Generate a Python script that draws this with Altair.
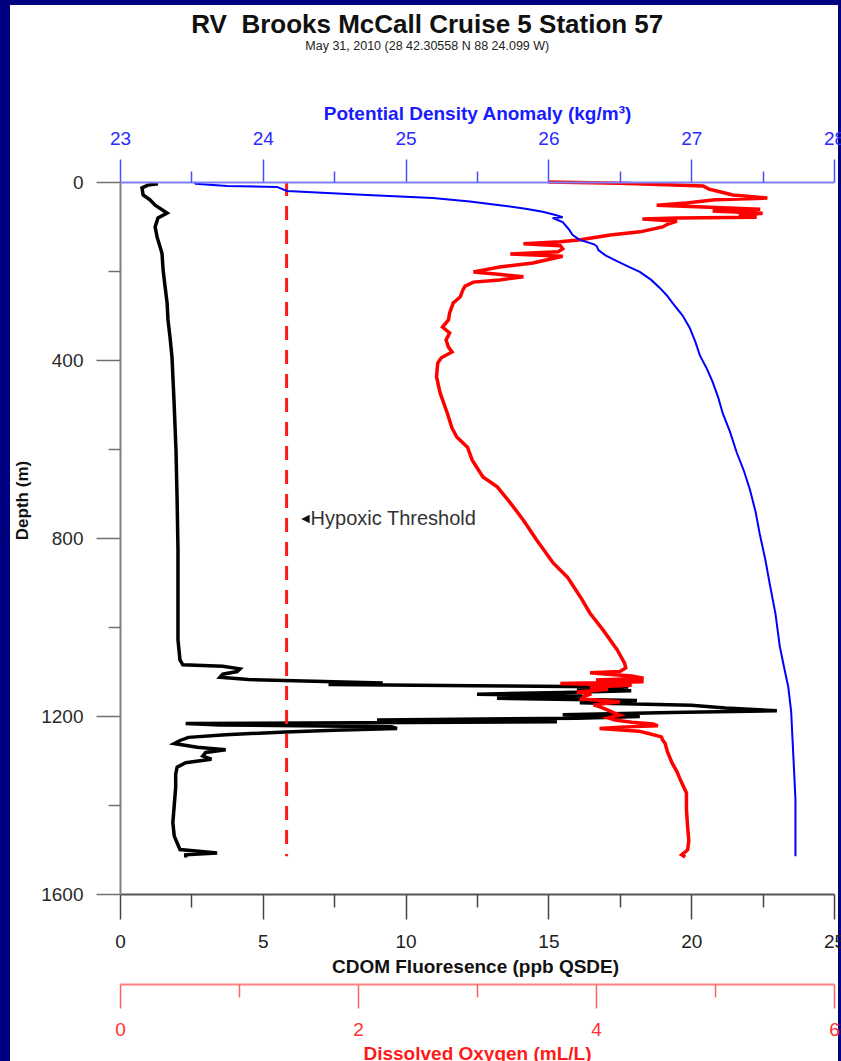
import altair as alt
import pandas as pd

# ---- CTD cast: RV Brooks McCall, cruise 5, station 57 ----
# CDOM fluorescence (ppb QSDE) against depth (m)
CDOM_DEPTH = [4, 7, 13, 29, 40, 52, 70, 81, 101, 124, 160, 198, 236, 272, 310, 348, 393,
              490, 602, 715, 827, 939, 1029, 1074, 1085, 1088, 1094, 1100, 1106, 1113,
              1118, 1122, 1126, 1129, 1132, 1135, 1139, 1143, 1147, 1151, 1155, 1160,
              1165, 1170, 1176, 1182, 1188, 1192, 1197, 1201, 1205, 1209, 1213, 1217,
              1220, 1224, 1228, 1232, 1236, 1242, 1248, 1255, 1262, 1270, 1276, 1282,
              1290, 1297, 1305, 1315, 1330, 1360, 1400, 1440, 1470, 1500, 1508, 1512, 1518]
CDOM_VALUE = [1.33, 0.98, 0.77, 0.81, 1.05, 1.23, 1.65, 1.33, 1.23, 1.30, 1.47, 1.51, 1.58,
              1.65, 1.68, 1.75, 1.82, 1.89, 1.96, 2.00, 2.03, 2.03, 2.03, 2.10, 2.20, 3.60,
              4.20, 4.10, 3.60, 3.50, 4.50, 6.80, 9.20, 7.30, 12.4, 17.8, 16.0, 17.9, 15.5,
              12.5, 16.2, 13.2, 18.1, 16.1, 20.0, 21.2, 23.0, 19.3, 15.5, 18.2, 16.0, 9.0,
              15.3, 2.30, 3.50, 9.50, 9.70, 7.50, 5.80, 3.70, 2.40, 2.10, 1.90, 2.70, 3.70,
              3.00, 2.90, 3.20, 2.30, 2.00, 1.95, 1.95, 1.90, 1.85, 1.90, 2.10, 3.40, 2.30, 2.30]

# Dissolved oxygen (mL/L) against depth (m)
DO_DEPTH = [0, 3, 6, 9, 16, 22, 29, 36, 40, 47, 52, 56, 61, 65, 70, 76, 79, 81, 83, 88, 95,
            101, 112, 119, 130, 134, 139, 143, 150, 157, 162, 167, 174, 182, 191, 202, 208,
            213, 220, 225, 234, 243, 258, 272, 294, 310, 326, 339, 355, 371, 382, 395, 407,
            438, 474, 519, 553, 573, 596, 625, 663, 685, 721, 760, 804, 856, 888, 933, 969,
            1007, 1052, 1081, 1092, 1100, 1103, 1106, 1110, 1115, 1119, 1123, 1127, 1131,
            1135, 1140, 1146, 1150, 1156, 1162, 1168, 1175, 1181, 1187, 1193, 1198, 1204,
            1209, 1214, 1218, 1222, 1225, 1228, 1234, 1240, 1247, 1254, 1261, 1280, 1306,
            1325, 1344, 1373, 1410, 1449, 1480, 1501, 1512, 1517]
DO_VALUE = [3.60, 4.20, 4.60, 4.90, 4.95, 5.04, 5.15, 5.44, 5.00, 4.76, 4.51, 4.90, 5.38,
            4.98, 5.40, 5.20, 5.35, 4.68, 4.39, 4.68, 4.60, 4.56, 4.37, 4.12, 3.87, 3.70,
            3.39, 3.70, 3.72, 3.68, 3.28, 3.72, 3.60, 3.47, 3.19, 2.97, 3.20, 3.39, 3.19,
            2.97, 2.90, 2.88, 2.86, 2.80, 2.77, 2.76, 2.71, 2.77, 2.74, 2.76, 2.79, 2.70,
            2.67, 2.66, 2.69, 2.75, 2.79, 2.83, 2.92, 2.96, 3.05, 3.17, 3.28, 3.39, 3.50,
            3.64, 3.76, 3.87, 3.95, 4.06, 4.18, 4.24, 4.25, 4.20, 3.95, 4.10, 4.30, 4.40,
            4.00, 4.40, 3.70, 4.30, 3.95, 4.10, 3.84, 3.96, 3.90, 3.88, 4.20, 3.98, 4.05,
            4.10, 4.15, 4.20, 4.10, 4.16, 4.30, 4.48, 4.52, 4.20, 4.03, 4.36, 4.45, 4.55,
            4.56, 4.58, 4.60, 4.64, 4.68, 4.71, 4.76, 4.76, 4.77, 4.78, 4.77, 4.72, 4.75]

# Potential density anomaly (kg/m3) against depth (m)
SIGMA_DEPTH = [0, 4, 9, 11, 20, 29, 36, 44, 52, 60, 67, 74, 79, 81, 90, 105, 119, 130, 140,
               145, 153, 165, 178, 190, 202, 220, 238, 255, 272, 300, 328, 360, 389, 420,
               449, 485, 519, 560, 609, 650, 690, 740, 791, 850, 903, 970, 1043, 1090,
               1135, 1190, 1256, 1320, 1387, 1450, 1515]
SIGMA_VALUE = [23.52, 23.53, 23.75, 24.10, 24.17, 24.73, 25.19, 25.45, 25.66, 25.84, 25.96,
               26.05, 26.10, 26.03, 26.10, 26.14, 26.17, 26.22, 26.32, 26.34, 26.35, 26.40,
               26.48, 26.56, 26.64, 26.72, 26.78, 26.83, 26.87, 26.94, 26.99, 27.03, 27.06,
               27.11, 27.15, 27.19, 27.22, 27.27, 27.32, 27.37, 27.41, 27.45, 27.48, 27.52,
               27.55, 27.59, 27.62, 27.65, 27.68, 27.70, 27.71, 27.72, 27.73, 27.73, 27.73]

# Hypoxic threshold (mL/L) and its annotation
HYPOXIC_DO = [1.4]
HYPOXIC_TOP = [0]
HYPOXIC_BOTTOM = [1515]
HYPOXIC_LABEL = ["Hypoxic Threshold"]
HYPOXIC_LABEL_DEPTH = [757]

# Axis tick values
DEPTH_MAJOR = [0, 400, 800, 1200, 1600]
DEPTH_MINOR = [200, 600, 1000, 1400]
CDOM_MAJOR = [0, 5, 10, 15, 20, 25]
CDOM_MINOR = [2.5, 7.5, 12.5, 17.5, 22.5]
DO_MAJOR = [0, 2, 4, 6]
DO_MINOR = [1, 3, 5]
SIGMA_MAJOR = [23, 24, 25, 26, 27, 28]
SIGMA_MINOR = [23.5, 24.5, 25.5, 26.5, 27.5]

FONT = "Liberation Sans"
W, H = 714, 712

cdom = pd.DataFrame({"depth": CDOM_DEPTH, "cdom": CDOM_VALUE, "i": range(len(CDOM_DEPTH))})
oxy = pd.DataFrame({"depth": DO_DEPTH, "do": DO_VALUE, "i": range(len(DO_DEPTH))})
sigma = pd.DataFrame({"depth": SIGMA_DEPTH, "sigma": SIGMA_VALUE, "i": range(len(SIGMA_DEPTH))})
hyp = pd.DataFrame({"do": HYPOXIC_DO, "top": HYPOXIC_TOP, "bottom": HYPOXIC_BOTTOM,
                    "label": HYPOXIC_LABEL, "depth": HYPOXIC_LABEL_DEPTH})

depth_scale = alt.Scale(domain=[0, 1600], reverse=True, nice=False, zero=False)
cdom_scale = alt.Scale(domain=[0, 25], nice=False, zero=False)
do_scale = alt.Scale(domain=[0, 6], nice=False, zero=False)
sigma_scale = alt.Scale(domain=[23, 28], nice=False, zero=False)

common = dict(grid=False, labelFlush=False, labelOverlap=False, labelBound=False,
              labelFont=FONT, titleFont=FONT, zindex=1)
minor_common = dict(domain=False, labels=False, title=None, grid=False, zindex=1,
                    tickWidth=1.5)

depth_axis = alt.Axis(orient="left", values=DEPTH_MAJOR, tickSize=24, tickWidth=1.5,
                      tickColor="#707070", domainColor="#808080", domainWidth=2,
                      labelFontSize=19, labelColor="#2a2a2a", labelPadding=13, format="d",
                      title="Depth (m)", titleFontSize=17, titleFontWeight="bold",
                      titleColor="#111111", titleAngle=270, titleX=-98, titleY=318,
                      titleAlign="center", titleBaseline="middle", **common)
depth_minor = alt.Axis(orient="left", values=DEPTH_MINOR, tickSize=12,
                       tickColor="#707070", **minor_common)

cdom_axis = alt.Axis(orient="bottom", values=CDOM_MAJOR, tickSize=25, tickWidth=1.5,
                     tickColor="#444444", domainColor="#555555", domainWidth=2,
                     labelFontSize=19, labelColor="#222222", labelPadding=13, format="d",
                     title="CDOM Fluoresence (ppb QSDE)", titleFontSize=19,
                     titleFontWeight="bold", titleColor="#111111", titleX=355, titleY=72,
                     titleBaseline="middle", **common)
cdom_minor = alt.Axis(orient="bottom", values=CDOM_MINOR, tickSize=13,
                      tickColor="#444444", **minor_common)

do_axis = alt.Axis(orient="bottom", offset=90, values=DO_MAJOR, tickSize=24, tickWidth=1.5,
                   tickColor="#ff6060", domainColor="#ff8080", domainWidth=2,
                   labelFontSize=19, labelColor="#ff3030", labelPadding=12, format="d",
                   title="Dissolved Oxygen (mL/L)", titleFontSize=19, titleFontWeight="bold",
                   titleColor="#ff1a1a", titleX=357, titleY=69, titleBaseline="middle", **common)
do_minor = alt.Axis(orient="bottom", offset=90, values=DO_MINOR, tickSize=13,
                    tickColor="#ff6060", **minor_common)

sigma_axis = alt.Axis(orient="top", values=SIGMA_MAJOR, tickSize=23, tickWidth=1.5,
                      tickColor="#4d4dff", domainColor="#8080ff", domainWidth=2,
                      labelFontSize=19, labelColor="#2b2bff", labelPadding=11, format="d",
                      title="Potential Density Anomaly (kg/m³)", titleFontSize=19,
                      titleFontWeight="bold", titleColor="#1a1aff", titleX=357, titleY=-69,
                      titleBaseline="middle", **common)
sigma_minor = alt.Axis(orient="top", values=SIGMA_MINOR, tickSize=11,
                       tickColor="#4d4dff", **minor_common)

# white panel inside the navy frame
panel = alt.Chart(pd.DataFrame({"panel": [0]})).mark_rect(color="white").encode(
    x=alt.value(-110), x2=alt.value(718), y=alt.value(-177), y2=alt.value(900)
)

cdom_line = alt.Chart(cdom).mark_line(color="black", strokeWidth=3.5).encode(
    x=alt.X("cdom:Q", scale=cdom_scale, axis=cdom_axis),
    y=alt.Y("depth:Q", scale=depth_scale, axis=depth_axis),
    order="i:Q",
)
cdom_ticks = alt.Chart(cdom).mark_line(strokeOpacity=0).encode(
    x=alt.X("cdom:Q", scale=cdom_scale, axis=cdom_minor),
    y=alt.Y("depth:Q", scale=depth_scale, axis=depth_minor),
    order="i:Q",
)

do_line = alt.Chart(oxy).mark_line(color="#ff0000", strokeWidth=3.5).encode(
    x=alt.X("do:Q", scale=do_scale, axis=do_axis),
    y=alt.Y("depth:Q", scale=depth_scale, axis=None),
    order="i:Q",
)
do_ticks = alt.Chart(oxy).mark_line(strokeOpacity=0).encode(
    x=alt.X("do:Q", scale=do_scale, axis=do_minor),
    y=alt.Y("depth:Q", scale=depth_scale, axis=None),
    order="i:Q",
)

hyp_rule = alt.Chart(hyp).mark_rule(color="#ff1a1a", strokeWidth=3, strokeDash=[14, 10]).encode(
    x=alt.X("do:Q", scale=do_scale, axis=None),
    y=alt.Y("top:Q", scale=depth_scale, axis=None),
    y2="bottom:Q",
)
hyp_arrow = alt.Chart(hyp).mark_text(text="◄", align="left", baseline="middle", dx=12,
                                     fontSize=14, color="#111111").encode(
    x=alt.X("do:Q", scale=do_scale, axis=None),
    y=alt.Y("depth:Q", scale=depth_scale, axis=None),
)
hyp_text = alt.Chart(hyp).mark_text(align="left", baseline="middle", dx=24, fontSize=20,
                                    font=FONT, color="#333333").encode(
    x=alt.X("do:Q", scale=do_scale, axis=None),
    y=alt.Y("depth:Q", scale=depth_scale, axis=None),
    text="label:N",
)

sigma_line = alt.Chart(sigma).mark_line(color="#0000ff", strokeWidth=2).encode(
    x=alt.X("sigma:Q", scale=sigma_scale, axis=sigma_axis),
    y=alt.Y("depth:Q", scale=depth_scale, axis=None),
    order="i:Q",
)
sigma_ticks = alt.Chart(sigma).mark_line(strokeOpacity=0).encode(
    x=alt.X("sigma:Q", scale=sigma_scale, axis=sigma_minor),
    y=alt.Y("depth:Q", scale=depth_scale, axis=None),
    order="i:Q",
)

chart = (
    alt.layer(panel, cdom_line, cdom_ticks, do_line, do_ticks, hyp_rule, hyp_arrow, hyp_text,
              sigma_line, sigma_ticks)
    .resolve_scale(x="independent")
    .resolve_axis(x="independent", y="independent")
    .properties(
        width=W, height=H,
        padding={"left": 120, "top": 182, "right": 7, "bottom": 167},
        autosize=alt.AutoSizeParams(type="none"),
        background="#000080",
        title=alt.TitleParams(
            text="RV\u00a0 Brooks McCall Cruise 5 Station 57",
            subtitle="May 31, 2010 (28 42.30558 N 88 24.099 W)",
            font=FONT, fontSize=26, fontWeight="bold", color="#111111",
            subtitleFont=FONT, subtitleFontSize=12.5, subtitleColor="#222222",
            subtitlePadding=2, anchor="middle", frame="bounds", offset=-47,
        ),
    )
    .configure_view(stroke=None)
)

chart.save("out.html", embed_options={"renderer": "svg", "actions": False})
